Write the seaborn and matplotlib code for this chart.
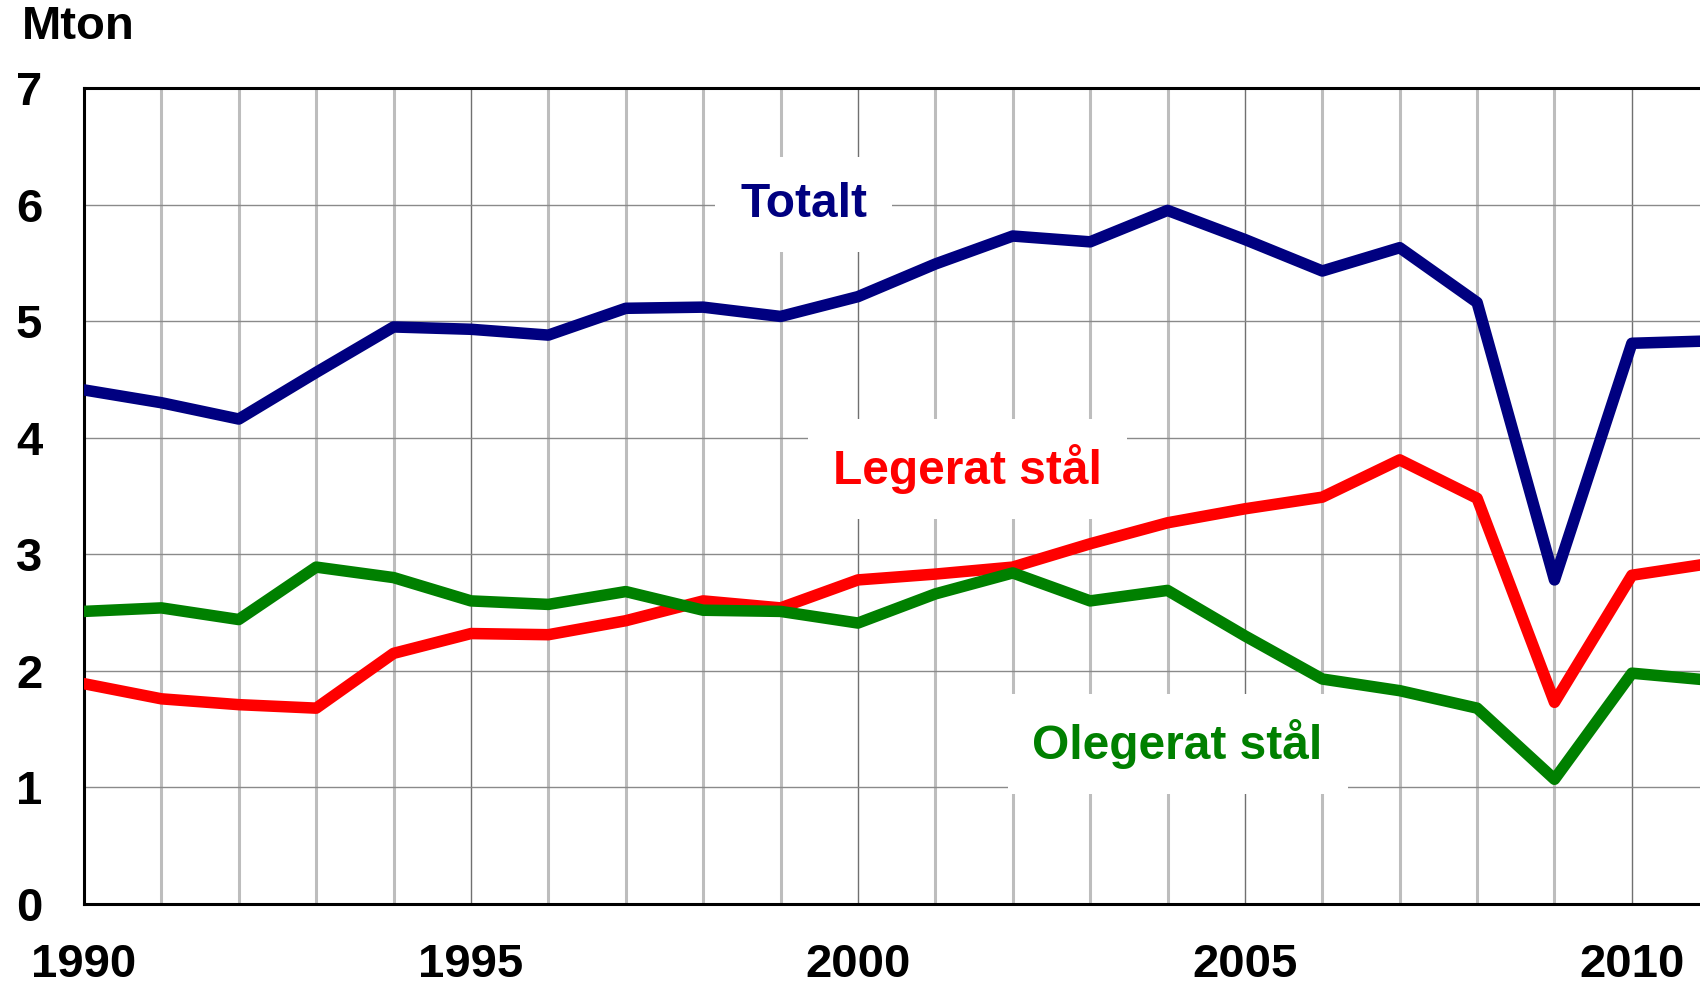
import pandas as pd
import seaborn as sns
import matplotlib.pyplot as plt
from matplotlib.ticker import MultipleLocator

years = list(range(1990, 2012))
totalt = [4.41, 4.30, 4.16, 4.56, 4.95, 4.93, 4.88, 5.11, 5.12, 5.04, 5.21,
          5.49, 5.73, 5.68, 5.95, 5.70, 5.43, 5.63, 5.16, 2.78, 4.81, 4.83]
legerat = [1.89, 1.76, 1.71, 1.68, 2.15, 2.32, 2.31, 2.43, 2.60, 2.54, 2.78,
           2.83, 2.89, 3.09, 3.27, 3.39, 3.49, 3.81, 3.48, 1.73, 2.82, 2.92]
olegerat = [2.51, 2.54, 2.44, 2.89, 2.80, 2.60, 2.57, 2.68, 2.52, 2.51, 2.41,
            2.66, 2.84, 2.60, 2.69, 2.30, 1.93, 1.83, 1.68, 1.07, 1.98, 1.92]
serier = ['Totalt', 'Legerat stål', 'Olegerat stål']
farger = ['#000080', '#ff0000', '#008000']

df = pd.DataFrame({
    'År': years * 3,
    'Mton': totalt + legerat + olegerat,
    'Serie': [s for s in serier for _ in years],
})

sns.set_style('white')
plt.rcParams['font.family'] = ['Liberation Sans', 'DejaVu Sans']
plt.rcParams['font.weight'] = 'bold'
plt.rcParams['text.color'] = 'black'
plt.rcParams['xtick.labelcolor'] = 'black'
plt.rcParams['ytick.labelcolor'] = 'black'

fig = plt.figure(figsize=(17, 9.84), dpi=100)
ax = fig.add_axes([0.0494, 0.0813, 0.9506, 0.8293])

sns.lineplot(data=df, x='År', y='Mton', hue='Serie', palette=farger,
             linewidth=8.3, legend=False, ax=ax, zorder=5)

ax.set_xlim(1990, 2010.88)
ax.set_ylim(0, 7)
ax.xaxis.set_major_locator(MultipleLocator(5))
ax.xaxis.set_minor_locator(MultipleLocator(1))
ax.yaxis.set_major_locator(MultipleLocator(1))

ax.grid(which='minor', axis='x', color='#bdbdbd', linewidth=2.2, zorder=0)
ax.grid(which='major', axis='x', color='#707070', linewidth=1.0, zorder=0)
ax.grid(which='major', axis='y', color='#8a8a8a', linewidth=1.0, zorder=0)
ax.set_axisbelow(True)

for side in ['left', 'bottom', 'top']:
    ax.spines[side].set_color('black')
    ax.spines[side].set_linewidth(2.2)
ax.spines['right'].set_visible(False)

ax.tick_params(axis='both', which='major', length=10, width=1, color='#707070',
               labelsize=34, labelcolor='black', direction='out')
ax.tick_params(axis='y', pad=20)
ax.tick_params(axis='x', pad=18)
ax.tick_params(axis='x', which='minor', length=0)
ax.set_xlabel('')
ax.set_ylabel('')

etiketter = [('Totalt', 1999.3, 6.0), ('Legerat stål', 2001.42, 3.73),
             ('Olegerat stål', 2004.13, 1.37)]
for (text, x, y), c in zip(etiketter, farger):
    ax.text(x, y, text, color=c, fontsize=34.5, fontweight='bold', ha='center',
            va='center', zorder=4,
            bbox=dict(facecolor='white', edgecolor='none', pad=18))

fig.text(22 / 1700, 1 - 27 / 984, 'Mton', fontsize=34, fontweight='bold',
         color='black', ha='left', va='center')

plt.savefig('out.png', dpi=100)
